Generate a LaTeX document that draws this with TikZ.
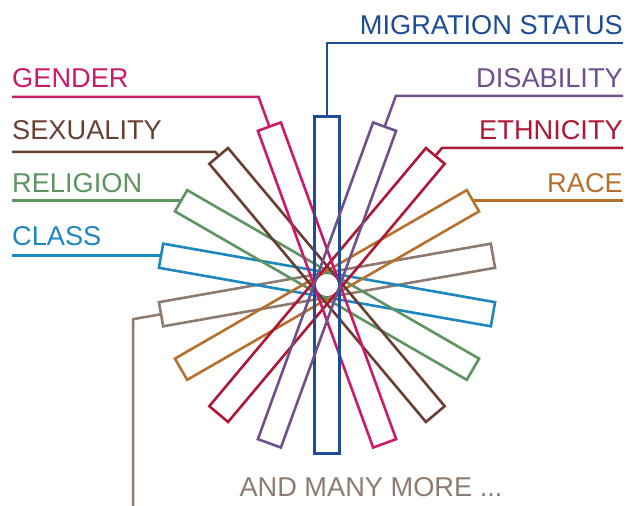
\documentclass[tikz,border=0pt]{standalone}
\usepackage{fontspec}
\setmainfont{Liberation Sans}
\definecolor{cmig}{HTML}{1E4D96}
\definecolor{cgender}{HTML}{CC1A6A}
\definecolor{csex}{HTML}{6B3E32}
\definecolor{crel}{HTML}{5E9462}
\definecolor{cclass}{HTML}{1D87BF}
\definecolor{cmore}{HTML}{8E7A70}
\definecolor{crace}{HTML}{B5702E}
\definecolor{ceth}{HTML}{AE1735}
\definecolor{cdis}{HTML}{6F4F8C}
\begin{document}
\begin{tikzpicture}[x=1pt,y=1pt,
  bar/.style={draw, line width=2.6pt, minimum width=24.5pt, minimum height=337pt, inner sep=0pt, outer sep=0pt},
  lead/.style={line width=2.5pt},
  lab/.style={font=\fontsize{27.2}{30}\selectfont, inner sep=0pt}]
\useasboundingbox (0,0) rectangle (633,506);
\coordinate (c) at (327,221);
% bars
\node[bar, draw=cmore, rotate=100] (more) at (c) {};
\node[bar, draw=cclass, rotate=80] (class) at (c) {};
\node[bar, draw=crel, rotate=60] (rel) at (c) {};
\node[bar, draw=crace, rotate=-60] (race) at (c) {};
\node[bar, draw=csex, rotate=40] (sex) at (c) {};
\node[bar, draw=ceth, rotate=-40] (eth) at (c) {};
\node[bar, draw=cgender, rotate=20] (gender) at (c) {};
\node[bar, draw=cmig, rotate=0] (mig) at (c) {};
\node[bar, draw=cdis, rotate=-20] (dis) at (c) {};
% labels
\node[lab, text=cmig, anchor=base east] (tmig) at (623,471) {MIGRATION STATUS};
\node[lab, text=cdis, anchor=base east] (tdis) at (623,418) {DISABILITY};
\node[lab, text=ceth, anchor=base east] (teth) at (623,366) {ETHNICITY};
\node[lab, text=crace, anchor=base east] (trace) at (623,313) {RACE};
\node[lab, text=cgender, anchor=base west] (tgender) at (12,418) {GENDER};
\node[lab, text=csex, anchor=base west] (tsex) at (12,366) {SEXUALITY};
\node[lab, text=crel, anchor=base west] (trel) at (12,313) {RELIGION};
\node[lab, text=cclass, anchor=base west] (tclass) at (12,260) {CLASS};
\node[lab, text=cmore, anchor=base] (tmore) at (371,9) {AND MANY MORE ...};
% leader ends
\coordinate (emig) at (623,463);
\coordinate (bmig) at (327,463);
\coordinate (edis) at (623,410);
\coordinate (bdis) at (intersection of dis.center--dis.north and 0,410--10,410);
\coordinate (eeth) at (623,358);
\coordinate (beth) at (intersection of eth.center--eth.north and 0,358--10,358);
\coordinate (egender) at (12,409);
\coordinate (bgender) at (intersection of gender.center--gender.north and 0,409--10,409);
\coordinate (esex) at (12,354);
\coordinate (bsex) at (intersection of sex.center--sex.north and 0,354--10,354);
\coordinate (bmore) at (intersection of more.center--more.north and 133,0--133,10);
\coordinate (emore) at (133,0);
% leaders
\draw[lead, cmig] (mig.north) -- (bmig) -- (emig);
\draw[lead, cdis] (dis.north) -- (bdis) -- (edis);
\draw[lead, ceth] (eth.north) -- (beth) -- (eeth);
\draw[lead, crace] (race.north) -- (race.north -| emig);
\draw[lead, cgender] (gender.north) -- (bgender) -- (egender);
\draw[lead, csex] (sex.north) -- (bsex) -- (esex);
\draw[lead, crel] (rel.north) -- (rel.north -| egender);
\draw[lead, cclass] (class.north) -- (class.north -| egender);
\draw[lead, cmore] (more.north) -- (bmore) -- (emore);
\end{tikzpicture}
\end{document}
